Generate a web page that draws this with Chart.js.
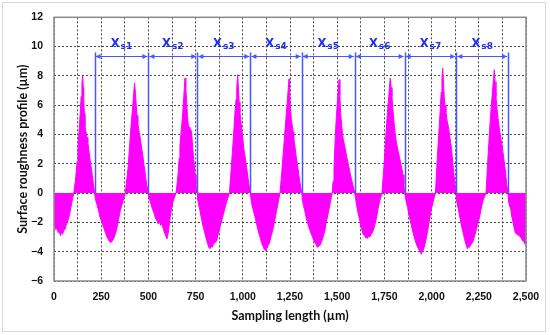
<!DOCTYPE html>
<html>
<head>
<meta charset="utf-8">
<script src="https://cdn.jsdelivr.net/npm/chart.js@4"></script>
<style>
  html, body { margin: 0; padding: 0; background: #fff; }
</style>
</head>
<body>
<canvas id="profileChart" width="550" height="335"></canvas>
<script>
// profile: position (µm) and height (µm)
const profileX = [
  0, 4, 10, 16, 22, 28, 34, 40, 46, 52, 58, 64, 70, 78, 85, 92, 98, 105,
  108, 113, 118, 122, 127, 131, 135, 139, 144, 148, 152, 155, 157, 161, 164, 167, 171, 175, 179, 184, 189, 194, 198, 203, 208, 215,
  218, 223, 228, 236, 245, 254, 263, 272, 281, 289, 298, 304, 310, 316, 325, 334, 342, 351, 358, 365, 372, 378,
  383, 388, 392, 398, 404, 410, 417, 422, 427, 431, 436, 440, 444, 448, 452, 457, 463, 470, 477, 484, 491, 500,
  503, 510, 519, 528, 537, 546, 552, 558, 565, 572, 580, 588, 594, 598, 604, 610, 616, 622, 630, 638, 646,
  650, 654, 658, 663, 667, 672, 677, 682, 687, 691, 694, 698, 703, 707, 711, 716, 720, 725, 729, 733, 738, 743, 747, 752, 759,
  762, 768, 773, 782, 791, 800, 809, 815, 820, 826, 832, 838, 844, 850, 856, 862, 870, 879, 888, 897, 906, 915, 922, 929,
  935, 941, 947, 953, 958, 964, 968, 973, 977, 981, 985, 989, 994, 1000, 1006, 1013, 1021, 1029, 1040,
  1044, 1050, 1056, 1064, 1073, 1082, 1091, 1100, 1109, 1114, 1118, 1122, 1127, 1133, 1138, 1144, 1153, 1162, 1170, 1179, 1188, 1197,
  1203, 1210, 1217, 1225, 1231, 1237, 1241, 1245, 1248, 1252, 1257, 1262, 1266, 1270, 1275, 1283, 1292, 1301, 1312,
  1316, 1322, 1328, 1336, 1345, 1354, 1363, 1372, 1381, 1388, 1393, 1398, 1403, 1408, 1416, 1425, 1434, 1442, 1451, 1460, 1469, 1474,
  1478, 1483, 1487, 1492, 1496, 1501, 1505, 1510, 1514, 1518, 1524, 1531, 1537, 1543, 1550, 1557, 1566, 1575, 1584, 1593,
  1598, 1602, 1611, 1620, 1628, 1637, 1646, 1650, 1655, 1660, 1666, 1672, 1681, 1690, 1699, 1708, 1716, 1725, 1731, 1737,
  1742, 1748, 1754, 1760, 1766, 1773, 1777, 1781, 1786, 1790, 1795, 1801, 1807, 1813, 1822, 1831, 1840, 1849, 1853, 1857,
  1866, 1873, 1882, 1891, 1900, 1908, 1917, 1926, 1935, 1940, 1944, 1948, 1952, 1961, 1970, 1979, 1988, 1997, 2008, 2020,
  2024, 2029, 2035, 2041, 2046, 2051, 2055, 2059, 2063, 2067, 2071, 2076, 2083, 2091, 2097, 2103, 2109, 2115, 2122, 2131,
  2134, 2140, 2147, 2156, 2165, 2174, 2182, 2187, 2191, 2196, 2200, 2209, 2218, 2226, 2235, 2244, 2253, 2262, 2271, 2280, 2288,
  2292, 2297, 2303, 2309, 2316, 2324, 2328, 2332, 2336, 2341, 2347, 2354, 2359, 2364, 2370, 2377, 2384, 2391, 2397, 2405,
  2408, 2414, 2421, 2425, 2430, 2436, 2443, 2450, 2457, 2464, 2470, 2476, 2482, 2488, 2496, 2500
];
const profileY = [
  -1.6, -2.2, -2.5, -2.4, -2.7, -2.6, -2.9, -2.7, -2.8, -2.5, -2.5, -2.2, -2.0, -1.7, -1.3, -0.8, -0.4, 0,
  0.4, 0.8, 1.5, 2.1, 3.0, 3.9, 4.7, 5.5, 6.6, 7.5, 8.0, 7.2, 6.6, 5.4, 4.6, 4.3, 4.1, 3.8, 3.5, 3.0, 2.5, 2.0, 1.7, 1.2, 0.7, 0,
  -0.3, -0.6, -0.8, -1.2, -1.7, -2.0, -2.35, -2.7, -3.0, -3.2, -3.36, -3.35, -3.25, -3.1, -2.8, -2.35, -1.8, -1.2, -0.9, -0.56, -0.25, 0,
  0.7, 1.2, 1.7, 2.8, 3.9, 4.9, 5.95, 6.8, 7.52, 6.9, 5.95, 5.3, 4.8, 4.4, 4.1, 3.75, 3.2, 2.6, 1.9, 1.24, 0.6, 0,
  -0.3, -0.6, -1.0, -1.3, -1.7, -1.9, -2.1, -1.95, -2.2, -2.1, -2.5, -2.8, -3.0, -3.1, -2.8, -2.2, -1.6, -1.1, -0.6, -0.3, 0,
  0.4, 0.9, 1.47, 2.4, 3.26, 4.0, 4.7, 5.5, 6.5, 7.3, 7.86, 7.2, 6.2, 5.3, 4.65, 4.5, 4.4, 4.3, 4.2, 3.4, 2.6, 1.9, 1.24, 0.6, 0,
  -0.5, -0.9, -1.2, -1.8, -2.35, -2.8, -3.25, -3.5, -3.7, -3.8, -3.65, -3.7, -3.5, -3.4, -3.35, -3.25, -2.8, -2.35, -1.9, -1.46, -1.0, -0.56, -0.3, 0,
  1.0, 2.1, 3.2, 4.4, 5.4, 6.4, 7.2, 8.08, 7.1, 6.2, 5.5, 5.0, 4.4, 3.7, 3.0, 2.4, 1.7, 0.9, 0,
  -0.5, -0.9, -1.2, -1.6, -2.1, -2.6, -3.0, -3.4, -3.7, -3.85, -3.9, -3.75, -3.8, -3.6, -3.5, -3.25, -2.8, -2.35, -1.8, -1.2, -0.6, 0,
  0.9, 2.0, 3.2, 4.5, 5.5, 6.5, 7.2, 7.8, 6.9, 6.0, 5.05, 4.6, 4.2, 3.8, 3.3, 2.5, 1.7, 0.85, 0,
  -0.5, -0.9, -1.2, -1.7, -2.1, -2.5, -2.8, -3.1, -3.36, -3.5, -3.65, -3.7, -3.55, -3.6, -3.36, -3.0, -2.6, -2.0, -1.46, -0.9, -0.3, 0,
  0.8, 1.7, 3.0, 4.4, 5.3, 6.2, 7.0, 7.75, 6.7, 5.5, 4.6, 3.75, 3.4, 3.0, 2.5, 2.1, 1.5, 1.0, 0.5, 0,
  -0.4, -0.78, -1.4, -1.9, -2.4, -2.8, -2.9, -3.05, -3.0, -3.1, -2.95, -3.0, -2.8, -2.6, -2.2, -1.7, -1.1, -0.56, -0.3, 0,
  0.9, 1.9, 3.1, 4.4, 5.5, 6.6, 7.3, 7.86, 7.2, 6.6, 5.7, 4.85, 4.1, 3.5, 2.9, 2.4, 1.8, 1.24, 0.6, 0,
  -0.6, -1.0, -1.6, -2.1, -2.6, -3.0, -3.4, -3.7, -3.9, -4.05, -4.15, -3.95, -4.0, -3.7, -3.2, -2.6, -1.9, -1.2, -0.6, 0,
  0.9, 2.1, 3.4, 4.65, 5.8, 6.9, 7.8, 8.53, 7.5, 6.6, 6.0, 5.5, 4.9, 4.4, 3.8, 3.3, 2.5, 1.7, 0.8, 0,
  -0.6, -1.0, -1.46, -2.1, -2.6, -3.1, -3.5, -3.7, -3.8, -3.65, -3.7, -3.5, -3.36, -3.0, -2.6, -2.1, -1.7, -1.1, -0.56, -0.25, 0,
  0.9, 2.1, 3.4, 4.65, 5.9, 7.2, 7.8, 8.42, 7.6, 6.6, 5.7, 4.85, 4.4, 4.0, 3.5, 2.9, 2.2, 1.5, 0.7, 0,
  -0.6, -0.9, -1.2, -1.6, -1.9, -2.3, -2.7, -2.8, -2.85, -2.9, -3.0, -3.1, -3.25, -3.3, -3.5, -3.6
];

// sampling length boundaries (µm) and their labels
const sampleEdges = [215, 500, 759, 1040, 1312, 1593, 1857, 2131, 2405];
const sampleNames = ['s1', 's2', 's3', 's4', 's5', 's6', 's7', 's8'];
const edgeTop = 9.6;
const arrowLevel = 9.35;
const labelLevel = 9.95;

const lineBlue = '#4657ff';
const textBlue = '#1f30e8';

// sampling-length markers, arrows and X_sN labels
const sampleMarkers = {
  id: 'sampleMarkers',
  afterDatasetsDraw(chart) {
    const { ctx, scales: { x, y }, chartArea } = chart;
    const top = y.getPixelForValue(edgeTop);
    const zero = y.getPixelForValue(0);
    const ay = Math.round(y.getPixelForValue(arrowLevel)) + 0.5;
    const ly = y.getPixelForValue(labelLevel);
    ctx.save();

    // frame of plot area
    ctx.strokeStyle = '#8a8a8a';
    ctx.lineWidth = 1.5;
    ctx.strokeRect(chartArea.left, chartArea.top, chartArea.right - chartArea.left, chartArea.bottom - chartArea.top);

    ctx.strokeStyle = lineBlue;
    ctx.lineWidth = 1.5;
    sampleEdges.forEach(v => {
      const px = Math.round(x.getPixelForValue(v)) + 0.5;
      ctx.beginPath();
      ctx.moveTo(px, top);
      ctx.lineTo(px, zero);
      ctx.stroke();
    });

    ctx.lineWidth = 1;
    for (let i = 0; i < sampleNames.length; i++) {
      const a = x.getPixelForValue(sampleEdges[i]) + 1;
      const b = x.getPixelForValue(sampleEdges[i + 1]) - 1;
      ctx.fillStyle = lineBlue;
      ctx.beginPath();
      ctx.moveTo(a, ay);
      ctx.lineTo(b, ay);
      ctx.stroke();
      // heads
      ctx.beginPath();
      ctx.moveTo(a, ay);
      ctx.lineTo(a + 5, ay - 2.5);
      ctx.lineTo(a + 5, ay + 2.5);
      ctx.closePath();
      ctx.fill();
      ctx.beginPath();
      ctx.moveTo(b, ay);
      ctx.lineTo(b - 5, ay - 2.5);
      ctx.lineTo(b - 5, ay + 2.5);
      ctx.closePath();
      ctx.fill();

      // label X with subscript
      const mid = (a + b) / 2;
      const bigFont = 'bold 11.5px "DejaVu Sans"';
      const subFont = 'bold 9px "DejaVu Sans"';
      ctx.font = bigFont;
      const wX = ctx.measureText('X').width;
      ctx.font = subFont;
      const wS = ctx.measureText(sampleNames[i]).width;
      const start = mid - (wX + wS + 1) / 2;
      ctx.fillStyle = textBlue;
      ctx.textAlign = 'left';
      ctx.textBaseline = 'alphabetic';
      ctx.font = bigFont;
      ctx.fillText('X', start, ly);
      ctx.font = subFont;
      ctx.fillText(sampleNames[i], start + wX + 1, ly + 2);
    }
    ctx.restore();
  },
  beforeDraw(chart) {
    const ctx = chart.ctx;
    ctx.save();
    ctx.fillStyle = '#fff';
    ctx.fillRect(0, 0, chart.width, chart.height);
    ctx.strokeStyle = '#d9d9d9';
    ctx.lineWidth = 1;
    ctx.strokeRect(2.5, 2.5, 543, 329);
    ctx.restore();
  }
};

const points = profileX.map((v, i) => ({ x: v, y: profileY[i] }));

new Chart(document.getElementById('profileChart'), {
  type: 'line',
  data: {
    datasets: [{
      label: 'Profile',
      data: points,
      fill: 'origin',
      backgroundColor: '#ff00ff',
      borderColor: '#ff00ff',
      borderWidth: 1,
      pointRadius: 0,
      tension: 0
    }]
  },
  options: {
    responsive: false,
    animation: false,
    layout: { padding: { left: 0, right: 24, top: 13, bottom: 0 } },
    plugins: {
      legend: { display: false },
      tooltip: { enabled: false }
    },
    scales: {
      x: {
        type: 'linear',
        min: 0,
        max: 2500,
        afterFit(scale) { scale.height = 54; },
        grid: { color: '#4a4a4a', lineWidth: 1, drawTicks: false },
        border: { display: false, dash: [2, 2] },
        ticks: {
          stepSize: 125,
          autoSkip: false,
          maxRotation: 0,
          padding: 10,
          color: '#111',
          font: { family: 'Liberation Sans', weight: 'bold', size: 10.5 },
          callback: v => (v % 250 === 0 ? v.toLocaleString('en-US') : '')
        },
        title: {
          display: true,
          text: 'Sampling length (µm)',
          color: '#111',
          font: { family: 'Lato', weight: 'bold', size: 12.5 },
          padding: { top: 0, bottom: 12 }
        }
      },
      y: {
        min: -6,
        max: 12,
        afterFit(scale) { scale.width = 54; },
        grid: { color: '#4a4a4a', lineWidth: 1, drawTicks: false },
        border: { display: false, dash: [2, 2] },
        ticks: {
          stepSize: 2,
          padding: 11,
          color: '#111',
          font: { family: 'Liberation Sans', weight: 'bold', size: 10.5 },
          callback: v => (v < 0 ? '\u2212' + Math.abs(v) : String(v))
        },
        title: {
          display: true,
          text: 'Surface roughness profile (µm)',
          color: '#111',
          font: { family: 'Lato', weight: 'bold', size: 12.5 },
          padding: { top: 15, bottom: 0 }
        }
      }
    }
  },
  plugins: [sampleMarkers]
});
</script>
</body>
</html>
